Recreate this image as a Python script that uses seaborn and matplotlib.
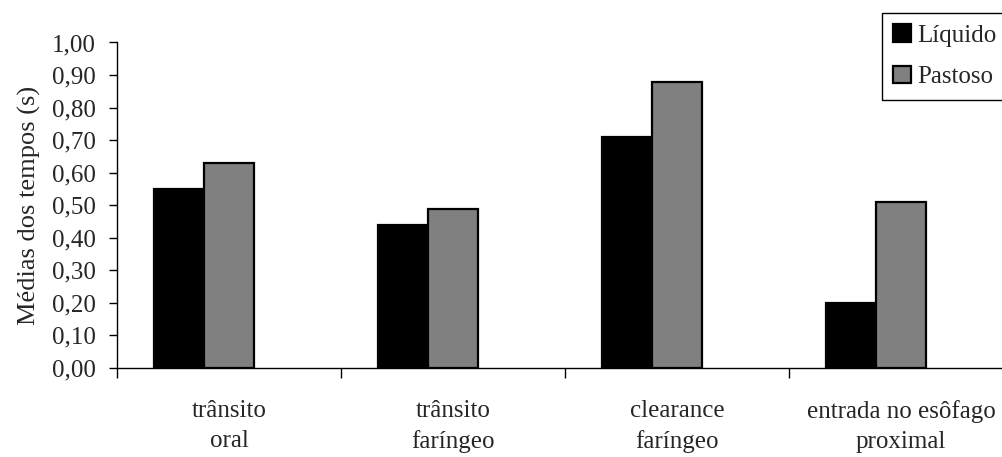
import numpy as np
import pandas as pd
import matplotlib
matplotlib.use("Agg")
import matplotlib.pyplot as plt
import seaborn as sns
from matplotlib.patches import Patch

# data
categories = ["trânsito\noral", "trânsito\nfaríngeo", "clearance\nfaríngeo", "entrada no esôfago\nproximal"]
liquido = [0.55, 0.44, 0.71, 0.20]
pastoso = [0.63, 0.49, 0.88, 0.51]
series = ["Líquido", "Pastoso"]
colors = {"Líquido": "#000000", "Pastoso": "#808080", " ": "#ffffff"}
yticks = np.round(np.arange(0, 1.01, 0.1), 2)

df = pd.DataFrame({
    "categoria": categories * 2,
    "serie": [series[0]] * 4 + [series[1]] * 4,
    "valor": liquido + pastoso,
})

sns.set_theme(style="white")
plt.rcParams["font.family"] = ["Liberation Serif", "DejaVu Serif"]
fs = 18

fig = plt.figure(figsize=(10.03, 4.57), dpi=100)
ax = fig.add_axes([117 / 1003, 89 / 457, 896 / 1003, 325.5 / 457])

# third (empty) level reproduces the Excel-style offset of the bar pairs
sns.barplot(data=df, x="categoria", y="valor", hue="serie",
            hue_order=series + [" "], order=categories, palette=colors,
            width=0.67, edgecolor="black", linewidth=1.6, legend=False, ax=ax)

ax.set_xlim(-0.5, 3.5)
ax.set_ylim(0, 1.0)
ax.set_yticks(yticks)
ax.set_yticklabels([f"{v:.2f}".replace(".", ",") for v in yticks], fontsize=fs)
ax.set_xticks(range(len(categories)))
ax.set_xticklabels(categories, fontsize=fs, linespacing=1.45)
ax.set_xticks(np.arange(-0.5, 3.6, 1.0), minor=True)
ax.tick_params(axis="x", which="major", length=0, pad=23)
ax.tick_params(axis="x", which="minor", direction="out", length=7, width=1, color="black", bottom=True)
ax.tick_params(axis="y", direction="out", length=6, width=1, color="black", left=True, pad=9)
ax.set_xlabel("")
ax.set_ylabel("Médias dos tempos (s)", fontsize=19, labelpad=8)

for s in ["top", "right"]:
    ax.spines[s].set_visible(False)
for s in ["left", "bottom"]:
    ax.spines[s].set_color("black")
    ax.spines[s].set_linewidth(1)

handles = [Patch(facecolor=colors[s], edgecolor="black", linewidth=1.6, label=s) for s in series]
leg = fig.legend(handles=handles, loc="upper left", bbox_to_anchor=(882 / 1003, 1 - 13 / 457),
                 fontsize=fs, frameon=True, fancybox=False, edgecolor="black",
                 framealpha=1, handlelength=0.72, handleheight=0.72, handletextpad=0.24,
                 borderpad=0.45, labelspacing=0.75, borderaxespad=0)
leg.get_frame().set_linewidth(1)

fig.savefig("out.png", dpi=100)
